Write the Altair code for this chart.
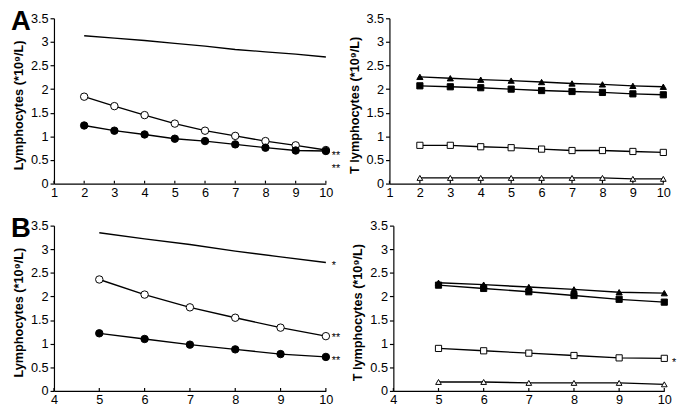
import altair as alt
import pandas as pd

# ---------------- data ----------------
x_A = [2, 3, 4, 5, 6, 7, 8, 9, 10]
A_total = [3.13, 3.08, 3.03, 2.97, 2.91, 2.84, 2.79, 2.74, 2.68]
A_open_circle = [1.84, 1.64, 1.45, 1.27, 1.12, 1.01, 0.90, 0.81, 0.71]
A_filled_circle = [1.23, 1.12, 1.04, 0.95, 0.90, 0.83, 0.76, 0.70, 0.69]
A_filled_triangle = [2.26, 2.23, 2.20, 2.18, 2.15, 2.12, 2.10, 2.07, 2.05]
A_filled_square = [2.07, 2.05, 2.03, 2.00, 1.97, 1.95, 1.93, 1.90, 1.88]
A_open_square = [0.81, 0.81, 0.78, 0.76, 0.73, 0.70, 0.70, 0.68, 0.66]
A_open_triangle = [0.12, 0.12, 0.12, 0.12, 0.12, 0.12, 0.12, 0.10, 0.10]

x_B = [5, 6, 7, 8, 9, 10]
B_total = [3.35, 3.22, 3.10, 2.96, 2.84, 2.72]
B_open_circle = [2.36, 2.04, 1.77, 1.55, 1.34, 1.16]
B_filled_circle = [1.22, 1.10, 0.98, 0.88, 0.78, 0.72]
B_filled_triangle = [2.29, 2.25, 2.20, 2.15, 2.09, 2.07]
B_filled_square = [2.24, 2.17, 2.10, 2.02, 1.94, 1.88]
B_open_square = [0.90, 0.85, 0.80, 0.75, 0.70, 0.69]
B_open_triangle = [0.19, 0.19, 0.17, 0.17, 0.17, 0.14]

xticks_A = [1, 2, 3, 4, 5, 6, 7, 8, 9, 10]
xticks_B = [4, 5, 6, 7, 8, 9, 10]
yticks = [0, 0.5, 1, 1.5, 2, 2.5, 3, 3.5]

notes_A_left = [("**", 0.64), ("**", 0.37)]
notes_B_left = [("*", 2.71), ("**", 1.18), ("**", 0.70)]
notes_B_right = [("*", 0.66)]

# marker styles per series (not data)
STYLE = {
    "total": ("none", "black", 0),
    "open_circle": ("circle", "white", 58),
    "filled_circle": ("circle", "black", 58),
    "filled_triangle": ("triangle-up", "black", 40),
    "filled_square": ("square", "black", 40),
    "open_square": ("square", "white", 40),
    "open_triangle": ("triangle-up", "white", 34),
}

FONT = "Liberation Sans"


def make_df(xs, series):
    rows = []
    for name, vals in series:
        shape, fill, size = STYLE[name]
        for x, y in zip(xs, vals):
            rows.append({"x": x, "y": y, "series": name, "shape": shape,
                         "fill": fill, "size": size})
    return pd.DataFrame(rows)


def panel(df, xticks, ytitle, notes, note_dx, letter, w, h):
    xs = alt.X("x:Q",
               scale=alt.Scale(domain=[xticks[0], xticks[-1]], nice=False, zero=False),
               axis=alt.Axis(values=xticks, title=None, tickSize=0, labelPadding=3,
                             labelFontSize=13, grid=False, labelFlush=False,
                             domainWidth=1.2))
    ys = alt.Y("y:Q",
               scale=alt.Scale(domain=[0, 3.5], nice=False),
               axis=alt.Axis(values=yticks, format="~g", title=ytitle, tickSize=4,
                             labelPadding=2, labelFontSize=13, titleFontSize=13,
                             titleFontWeight="bold", titlePadding=5, grid=False,
                             domainWidth=1.2, tickWidth=1.2,
                             titleAnchor="middle", titleY=h / 2 + 4))
    lines = alt.Chart(df).mark_line(color="black", strokeWidth=1.4).encode(
        x=xs, y=ys, detail="series:N")
    pts = alt.Chart(df[df["shape"] != "none"]).mark_point(
        filled=True, stroke="black", strokeWidth=1, opacity=1).encode(
        x=xs, y=ys,
        shape=alt.Shape("shape:N", scale=None),
        fill=alt.Fill("fill:N", scale=None),
        size=alt.Size("size:Q", scale=None))
    tick_df = pd.DataFrame({"x": xticks})
    ticks = alt.Chart(tick_df).mark_rule(color="black", strokeWidth=1.2).encode(
        x=xs, y=alt.value(h), y2=alt.value(h - 3))
    layers = [lines, pts, ticks]
    if notes:
        ndf = pd.DataFrame({"x": [10] * len(notes), "y": [n[1] for n in notes],
                            "t": [n[0] for n in notes]})
        layers.append(alt.Chart(ndf).mark_text(
            align="left", baseline="middle", dx=note_dx, dy=3, fontSize=11,
            font=FONT, color="black").encode(x=xs, y=ys, text="t:N"))
    if letter:
        ldf = pd.DataFrame({"t": [letter]})
        layers.append(alt.Chart(ldf).mark_text(
            align="left", baseline="alphabetic", fontSize=28, fontWeight="bold",
            font=FONT, color="black").encode(
            text="t:N", x=alt.value(-44), y=alt.value(12)))
    return alt.layer(*layers).properties(width=w, height=h)


dfAL = make_df(x_A, [("total", A_total), ("open_circle", A_open_circle),
                     ("filled_circle", A_filled_circle)])
dfAR = make_df(x_A, [("filled_triangle", A_filled_triangle),
                     ("filled_square", A_filled_square),
                     ("open_square", A_open_square),
                     ("open_triangle", A_open_triangle)])
dfBL = make_df(x_B, [("total", B_total), ("open_circle", B_open_circle),
                     ("filled_circle", B_filled_circle)])
dfBR = make_df(x_B, [("filled_triangle", B_filled_triangle),
                     ("filled_square", B_filled_square),
                     ("open_square", B_open_square),
                     ("open_triangle", B_open_triangle)])

t1 = "Lymphocytes (*10⁹/L)"
t2 = "T lymphocytes (*10⁹/L)"

H = 169
AL = panel(dfAL, xticks_A, t1, notes_A_left, 6, "A", 278, H)
AR = panel(dfAR, xticks_A, t2, [], 6, None, 280, H)
BL = panel(dfBL, xticks_B, t1, notes_B_left, 6, "B", 278, H)
BR = panel(dfBR, xticks_B, t2, notes_B_right, 8, None, 277, H)

chart = alt.vconcat(
    alt.hconcat(AL, AR, spacing=7),
    alt.hconcat(BL, BR, spacing=11),
    spacing=17,
).properties(
    padding={"left": 3, "top": -4, "right": 0, "bottom": 0}
).configure_axis(
    domainColor="black", tickColor="black", labelColor="black", titleColor="black",
    labelFont=FONT, titleFont=FONT,
).configure_view(stroke=None)

chart.save("out.html", embed_options={"renderer": "svg", "actions": False})
